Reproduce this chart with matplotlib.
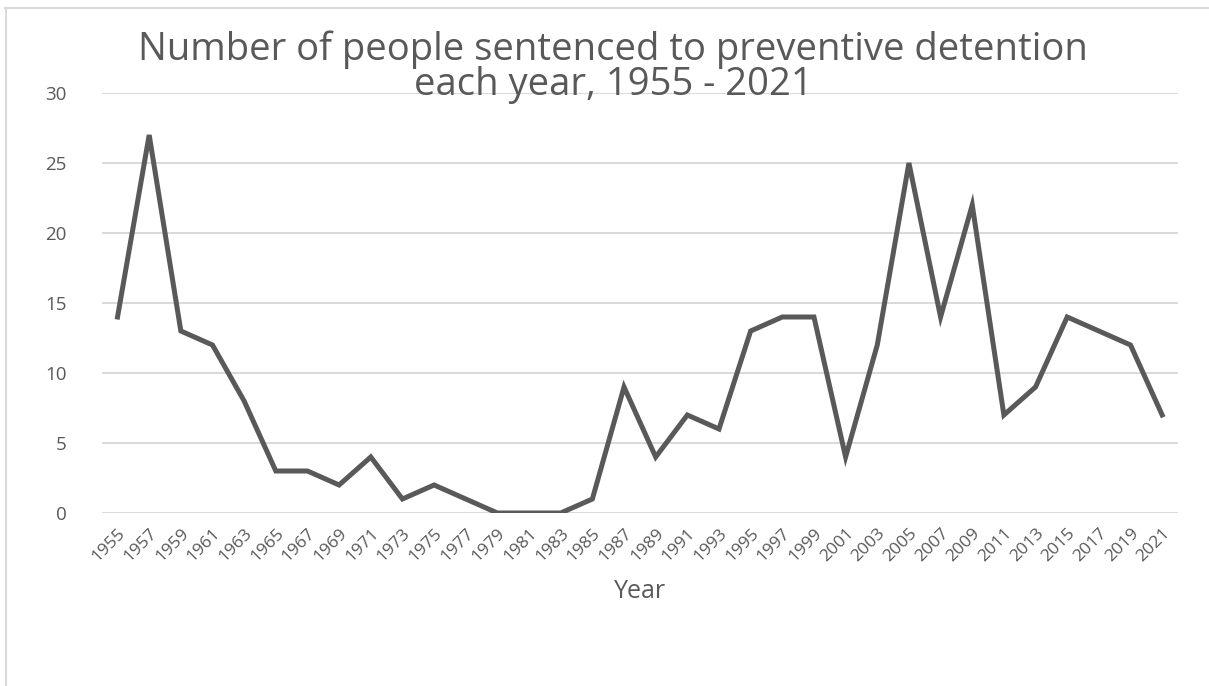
import matplotlib.pyplot as plt
from matplotlib.lines import Line2D

# data: every other year, 1955 - 2021
years = list(range(1955, 2022, 2))
counts = [14, 27, 13, 12, 8, 3, 3, 2, 4, 1, 2, 1, 0, 0, 0, 1, 9, 4, 7, 6,
          13, 14, 14, 4, 12, 25, 14, 22, 7, 9, 14, 13, 12, 7]
yticks = [0, 5, 10, 15, 20, 25, 30]

grey = '#595959'
plt.rcParams['font.family'] = ['Open Sans', 'DejaVu Sans']

fig = plt.figure(figsize=(12.09, 6.86), dpi=100)
ax = fig.add_axes([101.7 / 1209, 1 - 513 / 686, (1178 - 101.7) / 1209, (513 - 93) / 686])

x = list(range(len(years)))
ax.plot(x, counts, color=grey, lw=3.6, solid_joinstyle='miter', zorder=3)

ax.set_xlim(-0.5, len(years) - 0.5)
ax.set_ylim(0, 30)
ax.set_yticks(yticks)
ax.set_yticklabels([str(v) for v in yticks], fontsize=13.5, color=grey)
ax.set_xticks(x)
ax.set_xticklabels([str(y) for y in years], rotation=45, ha='right', va='top',
                   rotation_mode='anchor', fontsize=12.5, color=grey)
ax.tick_params(axis='both', length=0)
ax.tick_params(axis='y', pad=25)
ax.tick_params(axis='x', pad=9)
ax.grid(axis='y', color='#d9d9d9', lw=1.4)
ax.set_axisbelow(True)
for s in ax.spines.values():
    s.set_visible(False)

ax.set_xlabel('Year', fontsize=18, color=grey, labelpad=10)

fig.text(0.507, 0.902, 'Number of people sentenced to preventive detention\neach year, 1955 - 2021',
         ha='center', va='center', fontsize=27.5, color=grey,
         linespacing=0.9)

# light frame around the chart area
fig.add_artist(Line2D([5 / 1209, 1], [1 - 8 / 686, 1 - 8 / 686], color='#d9d9d9', lw=1.5))
fig.add_artist(Line2D([6 / 1209, 6 / 1209], [0, 1 - 8 / 686], color='#d9d9d9', lw=1.5))

fig.savefig('out.png', dpi=100)
